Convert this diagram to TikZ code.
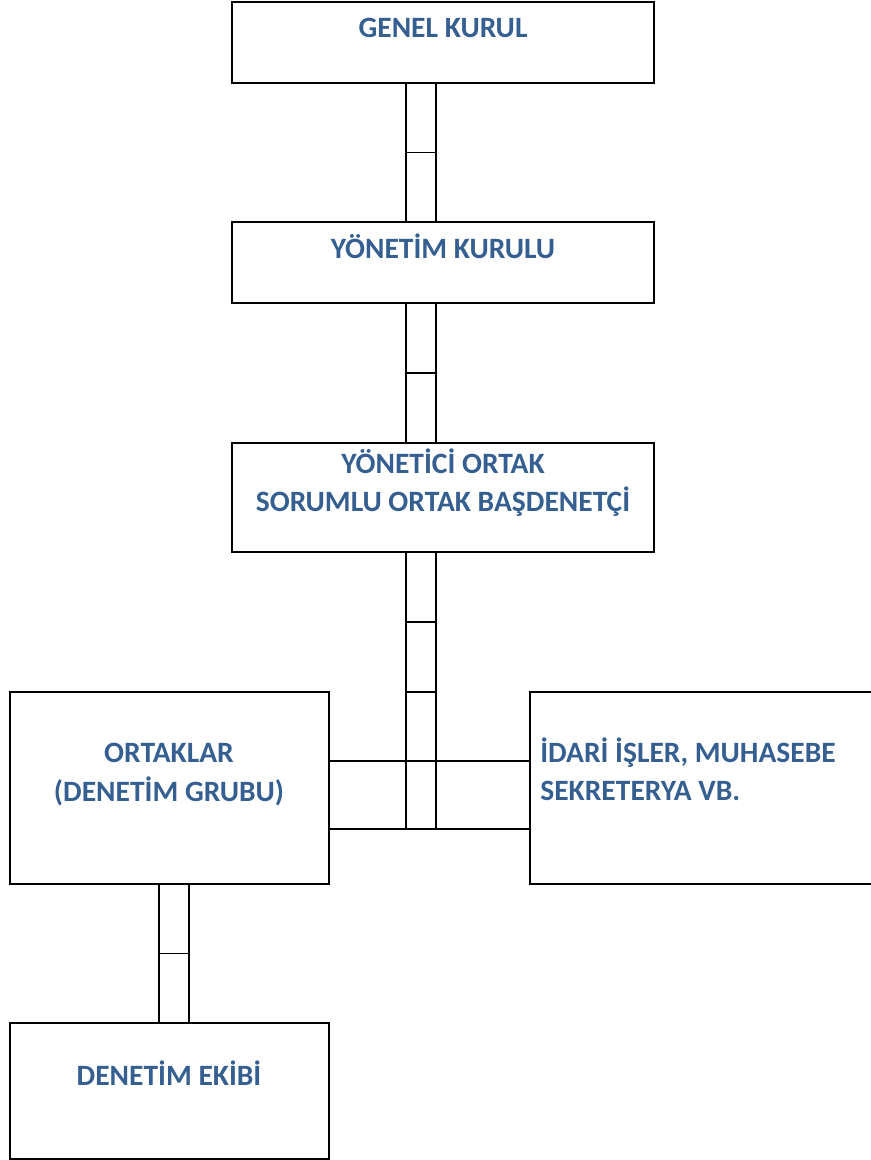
\documentclass[tikz,border=0pt]{standalone}
\usepackage{fontspec}
\setmainfont{Carlito}
\usetikzlibrary{fit,calc}
\definecolor{titleblue}{RGB}{54,95,145}
\tikzset{
  box/.style={draw, line width=1.1pt, inner sep=0pt, outer sep=0pt},
  lbl/.style={text=titleblue, font=\fontsize{16.8}{22.5}\selectfont\bfseries, inner sep=0pt, anchor=base},
  bar/.style={line width=1.1pt}
}
\begin{document}
\begin{tikzpicture}[x=0.02cm, y=-0.02cm]
      \useasboundingbox (0,0) rectangle (871,1160);
      % boxes
      \node[box, fit={(232,2) (654,83)}] (gk) {};
      \node[box, fit={(232,222) (654,303)}] (yk) {};
      \node[box, fit={(232,443) (654,552)}] (yo) {};
      \node[box, fit={(10,692) (329,884)}] (ort) {};
      \node[box, fit={(530,692) (878,884)}] (ida) {};
      \node[box, fit={(10,1023) (329,1159)}] (de) {};
      % texts
      \node[lbl] (gkt) at (443,37) {GENEL KURUL};
      \node[lbl] (ykt) at (443,258) {YÖNETİM KURULU};
      \node[lbl] (yot1) at (443,473) {YÖNETİCİ ORTAK};
      \node[lbl] (yot2) at (443,511) {SORUMLU ORTAK BAŞDENETÇİ};
      \node[lbl] (ortt1) at (169,762) {ORTAKLAR};
      \node[lbl] (ortt2) at (169,801) {(DENETİM GRUBU)};
      \node[lbl, anchor=base west] (idat1) at (540,762) {İDARİ İŞLER, MUHASEBE};
      \node[lbl, anchor=base west] (idat2) at (540,800) {SEKRETERYA VB.};
      \node[lbl] (det) at (169,1085) {DENETİM EKİBİ};
      % connectors
      \coordinate (m1) at (406,0);
      \coordinate (m2) at (436,0);
      \coordinate (b1) at (159,0);
      \coordinate (b2) at (189,0);
      \coordinate (h1) at (0,761);
      \coordinate (h2) at (0,829);
      \foreach \a/\b in {gk/yk, yk/yo} {
        \draw[bar] (\a.south -| m1) -- (\b.north -| m1);
        \draw[bar] (\a.south -| m2) -- (\b.north -| m2);
        \coordinate (mid) at ($(\a.south)!.5!(\b.north)$);
        \draw[bar] (mid -| m1) -- (mid -| m2);
      }
      \draw[bar] (yo.south -| m1) -- (h2 -| m1);
      \draw[bar] (yo.south -| m2) -- (h2 -| m2);
      \foreach \y in {622,692} {
        \draw[bar] (m1 |- 0,\y) -- (m2 |- 0,\y);
      }
      \draw[bar] (h1 -| ort.east) -- (h1 -| ida.west);
      \draw[bar] (h2 -| ort.east) -- (h2 -| ida.west);
      \draw[bar] (ort.south -| b1) -- (de.north -| b1);
      \draw[bar] (ort.south -| b2) -- (de.north -| b2);
      \coordinate (mid) at ($(ort.south)!.5!(de.north)$);
      \draw[bar] (mid -| b1) -- (mid -| b2);
\end{tikzpicture}
\end{document}
